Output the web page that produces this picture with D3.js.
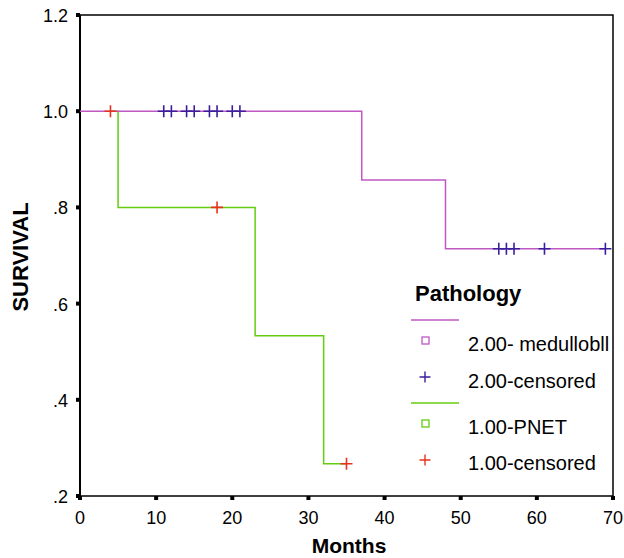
<!DOCTYPE html>
<html>
<head>
<meta charset="utf-8">
<script src="https://cdn.jsdelivr.net/npm/d3@7"></script>
<style>
  body { margin: 0; background: #fff; }
  text { font-family: "Liberation Sans", Arial, sans-serif; }
</style>
</head>
<body>
<div id="chart"></div>
<script>
// step curves: [month, survival]
var medSteps = [[0, 1.0], [37, 1.0], [37, 0.857], [48, 0.857], [48, 0.714], [69, 0.714]];
var medCensored = [[11, 1.0], [12, 1.0], [14, 1.0], [15, 1.0], [17, 1.0], [18, 1.0], [20, 1.0], [21, 1.0],
                   [55, 0.714], [56, 0.714], [57, 0.714], [61, 0.714], [69, 0.714]];
var pnetSteps = [[4, 1.0], [5, 1.0], [5, 0.8], [23, 0.8], [23, 0.533], [32, 0.533], [32, 0.267], [35, 0.267]];
var pnetCensored = [[4, 1.0], [18, 0.8], [35, 0.267]];
var xTicks = [0, 10, 20, 30, 40, 50, 60, 70];
var yTicks = [0.2, 0.4, 0.6, 0.8, 1.0, 1.2];
var yTickLabels = [".2", ".4", ".6", ".8", "1.0", "1.2"];
var legendItems = ["2.00- medullobll", "2.00-censored", "1.00-PNET", "1.00-censored"];

(function () {
    var width = 624, height = 558;
    var magenta = "#c058c4", purple = "#3c1e9c", green = "#66cc11", red = "#e8321e";

    var svg = d3.select("#chart").append("svg")
        .attr("width", width)
        .attr("height", height);

    var x = d3.scaleLinear().domain([0, 70]).range([80, 613]);
    var y = d3.scaleLinear().domain([0.2, 1.2]).range([496, 15]);

    // frame
    svg.append("rect")
        .attr("x", x(0)).attr("y", y(1.2))
        .attr("width", x(70) - x(0)).attr("height", y(0.2) - y(1.2))
        .attr("fill", "none").attr("stroke", "#000").attr("stroke-width", 1.5);

    // y axis
    svg.append("line")
        .attr("x1", x(0)).attr("x2", x(0)).attr("y1", y(1.2)).attr("y2", y(0.2))
        .attr("stroke", "#000").attr("stroke-width", 2);
    var yg = svg.append("g");
    yg.selectAll("rect").data(yTicks).join("rect")
        .attr("x", x(0) - 4).attr("y", d => y(d) - 2)
        .attr("width", 4).attr("height", 4).attr("fill", "#000");
    yg.selectAll("text").data(yTicks).join("text")
        .attr("x", x(0) - 12).attr("y", d => y(d) + 7)
        .attr("text-anchor", "end").attr("font-size", 18)
        .text((d, i) => yTickLabels[i]);

    // x axis
    var xg = svg.append("g");
    xg.selectAll("rect").data(xTicks).join("rect")
        .attr("x", d => x(d) - 2).attr("y", y(0.2))
        .attr("width", 4).attr("height", 4).attr("fill", "#000");
    xg.selectAll("text").data(xTicks).join("text")
        .attr("x", d => x(d)).attr("y", y(0.2) + 28)
        .attr("text-anchor", "middle").attr("font-size", 18)
        .text(d => d);

    svg.append("text")
        .attr("x", 349).attr("y", 553)
        .attr("text-anchor", "middle").attr("font-size", 21).attr("font-weight", "bold")
        .text("Months");
    svg.append("text")
        .attr("transform", "translate(28," + 257 + ") rotate(-90)")
        .attr("text-anchor", "middle").attr("font-size", 22).attr("font-weight", "bold")
        .text("SURVIVAL");

    var line = d3.line().x(d => x(d[0])).y(d => y(d[1]));

    svg.append("path").datum(pnetSteps)
        .attr("d", line).attr("fill", "none").attr("stroke", green).attr("stroke-width", 1.5);
    svg.append("path").datum(medSteps)
        .attr("d", line).attr("fill", "none").attr("stroke", magenta).attr("stroke-width", 1.5);

    function cross(g, data, color, size) {
        g.selectAll("path").data(data).join("path")
            .attr("d", d => "M" + (x(d[0]) - size) + "," + y(d[1]) + "h" + (2 * size) +
                "M" + x(d[0]) + "," + (y(d[1]) - size) + "v" + (2 * size))
            .attr("stroke", color).attr("stroke-width", 1.6).attr("fill", "none");
    }
    cross(svg.append("g"), medCensored, purple, 6);
    cross(svg.append("g"), pnetCensored, red, 6);

    // legend
    var lg = svg.append("g");
    lg.append("text").attr("x", 415).attr("y", 301)
        .attr("font-size", 22).attr("font-weight", "bold").text("Pathology");
    lg.append("line").attr("x1", 411).attr("x2", 459).attr("y1", 320).attr("y2", 320)
        .attr("stroke", magenta).attr("stroke-width", 1.5);
    lg.append("line").attr("x1", 411).attr("x2", 459).attr("y1", 403).attr("y2", 403)
        .attr("stroke", green).attr("stroke-width", 1.5);
    lg.append("rect").attr("x", 422).attr("y", 337).attr("width", 7).attr("height", 7)
        .attr("fill", "none").attr("stroke", magenta).attr("stroke-width", 1.3);
    lg.append("rect").attr("x", 422).attr("y", 420).attr("width", 7).attr("height", 7)
        .attr("fill", "none").attr("stroke", green).attr("stroke-width", 1.3);
    lg.append("path").attr("d", "M419.5,377h11M425,371.5v11")
        .attr("stroke", purple).attr("stroke-width", 1.4);
    lg.append("path").attr("d", "M419.5,460h11M425,454.5v11")
        .attr("stroke", red).attr("stroke-width", 1.4);
    var legendY = [351, 388, 434, 470];
    lg.selectAll("text.item").data(legendItems).join("text")
        .attr("class", "item")
        .attr("x", 468).attr("y", (d, i) => legendY[i])
        .attr("font-size", 20).text(d => d);
})();
</script>
</body>
</html>
